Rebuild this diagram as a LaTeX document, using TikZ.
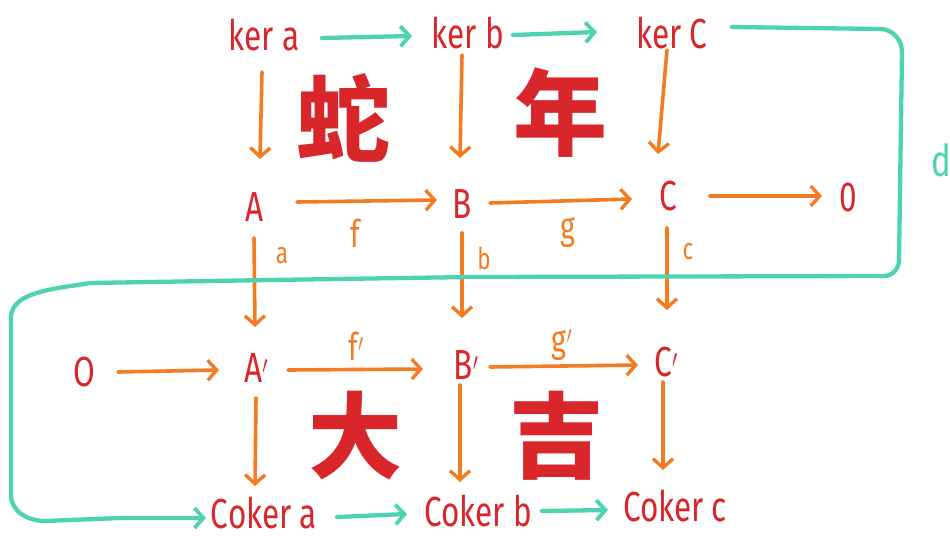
\documentclass[tikz,border=0pt]{standalone}
\usepackage{fontspec}
\usepackage{graphicx}
\setmainfont{Fira Sans}
\newfontfamily\cjk{Noto Sans CJK SC}
\usetikzlibrary{arrows.meta,calc}
\definecolor{txtred}{HTML}{D8262B}
\definecolor{arrorange}{HTML}{F57B22}
\definecolor{tealline}{HTML}{4DD3B0}
\newcommand{\hw}[1]{\scalebox{0.75}[1]{#1}}
\tikzset{
  lbl/.style={text=txtred, font=\fontsize{42}{44}\selectfont, inner sep=0pt},
  maplbl/.style={text=arrorange, font=\fontsize{38}{40}\selectfont, inner sep=0pt},
  smalllbl/.style={text=arrorange, font=\fontsize{30}{32}\selectfont, inner sep=0pt},
  han/.style={text=txtred, font=\cjk\bfseries\fontsize{94}{96}\selectfont, inner sep=0pt},
  oarr/.style={draw=arrorange, line width=3.6pt, line cap=round, line join=round,
    -{Straight Barb[length=9pt,width=20pt,line width=3.4pt]}},
  tarr/.style={draw=tealline, line width=4.3pt, line cap=round, line join=round,
    -{Straight Barb[length=9pt,width=20pt,line width=3.8pt]}}
}
\begin{document}
\begin{tikzpicture}[x=1pt,y=-1pt]
\useasboundingbox[fill=white] (0,0) rectangle (950,539);
% top row
\node[lbl] (ka) at (264,35) {\hw{ker a}};
\node[lbl] (kb) at (468,33) {\hw{ker b}};
\node[lbl] (kc) at (672,33) {\hw{ker C}};
% middle rows
\node[lbl] (A) at (255,207) {\hw{A}};
\node[lbl] (B) at (462,204) {\hw{B}};
\node[lbl] (C) at (668,196) {\hw{C}};
\node[lbl] (Z1) at (848,197) {\hw{0}};
\node[lbl] (Z0) at (84,372) {\hw{O}};
\node[lbl] (Ap) at (256,368) {\hw{A$'$}};
\node[lbl] (Bp) at (466,365) {\hw{B$'$}};
\node[lbl] (Cp) at (666,362) {\hw{C$'$}};
% bottom row
\node[lbl] (cka) at (264,513) {\hw{Coker a}};
\node[lbl] (ckb) at (478,511) {\hw{Coker b}};
\node[lbl] (ckc) at (675,506) {\hw{Coker c}};
% Chinese characters
\node[han] (h1) at (343,118) {蛇};
\node[han] (h2) at (560,113) {年};
\node[han] (h3) at (355,436) {大};
\node[han] (h4) at (556,436) {吉};
% map labels
\node[maplbl] (lf) at (355,233) {\hw{f}};
\node[maplbl] (lg) at (568,232) {\hw{g}};
\node[smalllbl] (la) at (282,256) {\hw{a}};
\node[smalllbl] (lb) at (484,258) {\hw{b}};
\node[smalllbl] (lc) at (688,252) {\hw{c}};
\node[maplbl] (lfp) at (356,346) {\hw{f$'$}};
\node[maplbl] (lgp) at (562,345) {\hw{g$'$}};
\node[text=tealline, font=\fontsize{44}{46}\selectfont, inner sep=0pt] (ld) at (941,160) {\hw{d}};
% vertical arrows
\draw[oarr] ($(ka)+(-2,37)$) -- ($(A)+(5,-48)$);
\draw[oarr] ($(kb)+(-6,22)$) -- ($(B)+(-2,-46)$);
\draw[oarr] ($(kc)+(-5,17)$) -- ($(C)+(-10,-42)$);
\draw[oarr] ($(A)+(-1,31)$) -- ($(Ap)+(-1,-41)$);
\draw[oarr] ($(B)+(0,29)$) -- ($(Bp)+(-4,-47)$);
\draw[oarr] ($(C)+(-1,32)$) -- ($(Cp)+(1,-52)$);
\draw[oarr] ($(Ap)+(0,30)$) -- ($(cka)+(-9,-27)$);
\draw[oarr] ($(Bp)+(-6,20)$) -- ($(ckb)+(-18,-29)$);
\draw[oarr] ($(Cp)+(-3,20)$) -- ($(ckc)+(-12,-36)$);
% horizontal orange arrows
\draw[oarr] ($(A)+(42,-5)$) -- ($(B)+(-25,-4)$);
\draw[oarr] ($(B)+(28,-1)$) -- ($(C)+(-36,3)$);
\draw[oarr] ($(C)+(42,0)$) -- ($(Z1)+(-26,-1)$);
\draw[oarr] ($(Z0)+(34,0)$) -- ($(Ap)+(-37,2)$);
\draw[oarr] ($(Ap)+(32,2)$) -- ($(Bp)+(-43,4)$);
\draw[oarr] ($(Bp)+(24,2)$) -- ($(Cp)+(-28,3)$);
% teal arrows
\draw[tarr] ($(ka)+(58,3)$) -- ($(kb)+(-56,3)$);
\draw[tarr] ($(kb)+(45,2)$) -- ($(kc)+(-75,-1)$);
\draw[tarr] ($(cka)+(73,4)$) -- ($(ckb)+(-71,3)$);
\draw[tarr] ($(ckb)+(64,0)$) -- ($(ckc)+(-67,4)$);
% snake connecting map d
\coordinate (dstart) at ($(kc)+(60,-6)$);
\draw[tarr] (dstart) -- (880,29) to[out=0,in=90] (902,52) -- (899,260)
  to[out=-90,in=0] (884,276) -- (470,277) -- (270,280) -- (90,283)
  to[out=190,in=15] (40,292) to[out=195,in=90] (11,318) -- (11,495)
  to[out=-90,in=180] (45,521) -- (120,518) -- ($(cka)+(-58,5)$);
\end{tikzpicture}
\end{document}
